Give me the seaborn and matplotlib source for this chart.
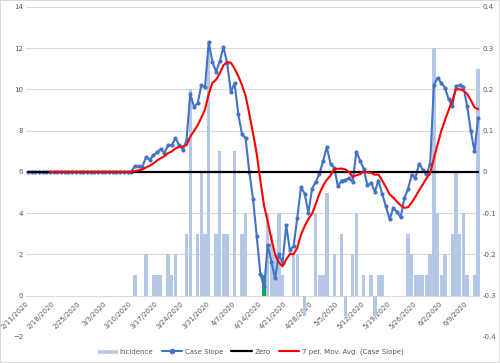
import matplotlib
matplotlib.use("Agg")
import matplotlib.pyplot as plt
import seaborn as sns
import pandas as pd
from matplotlib.lines import Line2D
from matplotlib.patches import Patch

# daily incidence, 2/11/2020 .. 6/12/2020 (left axis)
incidence = (
    [0] * 29
    + [1, 0, 0, 2, 0, 1, 1, 1, 0, 2, 1, 2, 0, 0, 3, 10, 0, 3, 6, 3, 12, 0, 3, 7, 3, 3, 0, 7, 0, 3, 4]
    + [0, 0, 0, 0, 1, 4, 3, 2, 4, 1, 0, 0, 2, 2, 0, -1, 0, 0, 4, 1, 1, 5, 0, 2, 0, 3, -1, 0, 2, 4]
    + [0, 1, 0, 1, -1, 1, 1, 0, 0, 0, 0, 0, 0, 3, 2, 1, 1, 1, 1, 2, 12, 4, 1, 2, 0, 3, 6, 3, 4, 1, 0, 1, 11]
)

# case slope (right axis)
case_slope = (
    [0.0] * 29
    + [0.0135, 0.0135, 0.012, 0.035, 0.03, 0.04, 0.0475, 0.055, 0.046, 0.064, 0.065, 0.0815,
       0.065, 0.054, 0.0775, 0.19, 0.158, 0.166, 0.21, 0.205, 0.315, 0.267, 0.243, 0.268,
       0.303, 0.263, 0.194, 0.215, 0.141, 0.092, 0.081]
    + [0.0, -0.065, -0.155, -0.2475, -0.28, -0.1775, -0.219, -0.258, -0.2, -0.22, -0.1295,
       -0.19, -0.18, -0.111, -0.0375, -0.0525, -0.0995, -0.041, -0.024, -0.005, 0.027, 0.06,
       0.02, 0.01, -0.035, -0.021, -0.0195, -0.0155, -0.025, 0.049]
    + [0.0275, 0.0075, -0.033, -0.0265, -0.048, -0.021, -0.0535, -0.0835, -0.1145, -0.0885,
       -0.0965, -0.11, -0.064, -0.0415, -0.007, -0.015, 0.02, 0.005, -0.006, 0.02, 0.21, 0.228,
       0.216, 0.204, 0.176, 0.16, 0.208, 0.21, 0.206, 0.16, 0.1, 0.05, 0.13]
)

highlight_day = 64  # the one green bar

tick_labels = ["2/11/2020", "2/18/2020", "2/25/2020", "3/3/2020", "3/10/2020", "3/17/2020",
               "3/24/2020", "3/31/2020", "4/7/2020", "4/14/2020", "4/21/2020", "4/28/2020",
               "5/5/2020", "5/12/2020", "5/19/2020", "5/26/2020", "6/2/2020", "6/9/2020"]

df = pd.DataFrame({"day": range(len(incidence)), "incidence": incidence, "slope": case_slope})
df["ma"] = df["slope"].rolling(7).mean()
df["zero"] = 0.0

sns.set_style("white")
grey = "#595959"

fig = plt.figure(figsize=(5, 3.63), dpi=100, edgecolor="#D9D9D9", linewidth=1.2)
ax = fig.add_axes([0.052, 0.072, 0.908, 0.909])

sns.barplot(data=df, x="day", y="incidence", color="#B4C7E7", saturation=1, width=0.92,
            ax=ax, zorder=2)
for p in ax.patches:
    p.set_edgecolor("none")
ax.patches[highlight_day].set_facecolor("#00B050")

ax.set_ylim(-2, 14)
ax.set_yticks(range(-2, 15, 2))
ax.grid(axis="y", color="#D9D9D9", linewidth=0.8, zorder=0)
ax.set_axisbelow(True)

ax2 = ax.twinx()
sns.lineplot(data=df, x="day", y="slope", color="#4472C4", linewidth=1.5, marker="o",
             markersize=3, markeredgewidth=0, ax=ax2)
sns.lineplot(data=df, x="day", y="zero", color="black", linewidth=1.6, ax=ax2)
sns.lineplot(data=df.dropna(), x="day", y="ma", color="#FF0000", linewidth=1.5, ax=ax2)
ax2.set_ylim(-0.4, 0.4)
ax2.set_yticks([-0.4, -0.3, -0.2, -0.1, 0, 0.1, 0.2, 0.3, 0.4])
ax2.set_yticklabels(["-0.4", "-0.3", "-0.2", "-0.1", "0", "0.1", "0.2", "0.3", "0.4"])

ax.spines["bottom"].set_position(("data", 0))
ax.set_xticks(range(0, len(incidence), 7))
ax.set_xticklabels(tick_labels, rotation=45, ha="right", va="center", rotation_mode="anchor")

for a in (ax, ax2):
    for s in a.spines.values():
        s.set_visible(False)
    a.set_xlabel("")
    a.set_ylabel("")
    a.tick_params(length=0, labelsize=5, labelcolor=grey, pad=2)
ax.tick_params(axis="x", pad=5)
ax.set_xlim(-0.5, len(incidence) - 0.5)

handles = [
    Patch(facecolor="#B4C7E7", label="Incidence"),
    Line2D([], [], color="#4472C4", lw=1.5, marker="o", markersize=3, label="Case Slope"),
    Line2D([], [], color="black", lw=1.6, label="Zero"),
    Line2D([], [], color="#FF0000", lw=1.5, label="7 per. Mov. Avg. (Case Slope)"),
]
fig.legend(handles=handles, loc="center", bbox_to_anchor=(0.5, 0.03), ncol=4, frameon=False,
           fontsize=5, labelcolor=grey, handlelength=3, columnspacing=1.2, handletextpad=0.3)

fig.savefig("out.png", dpi=100)
